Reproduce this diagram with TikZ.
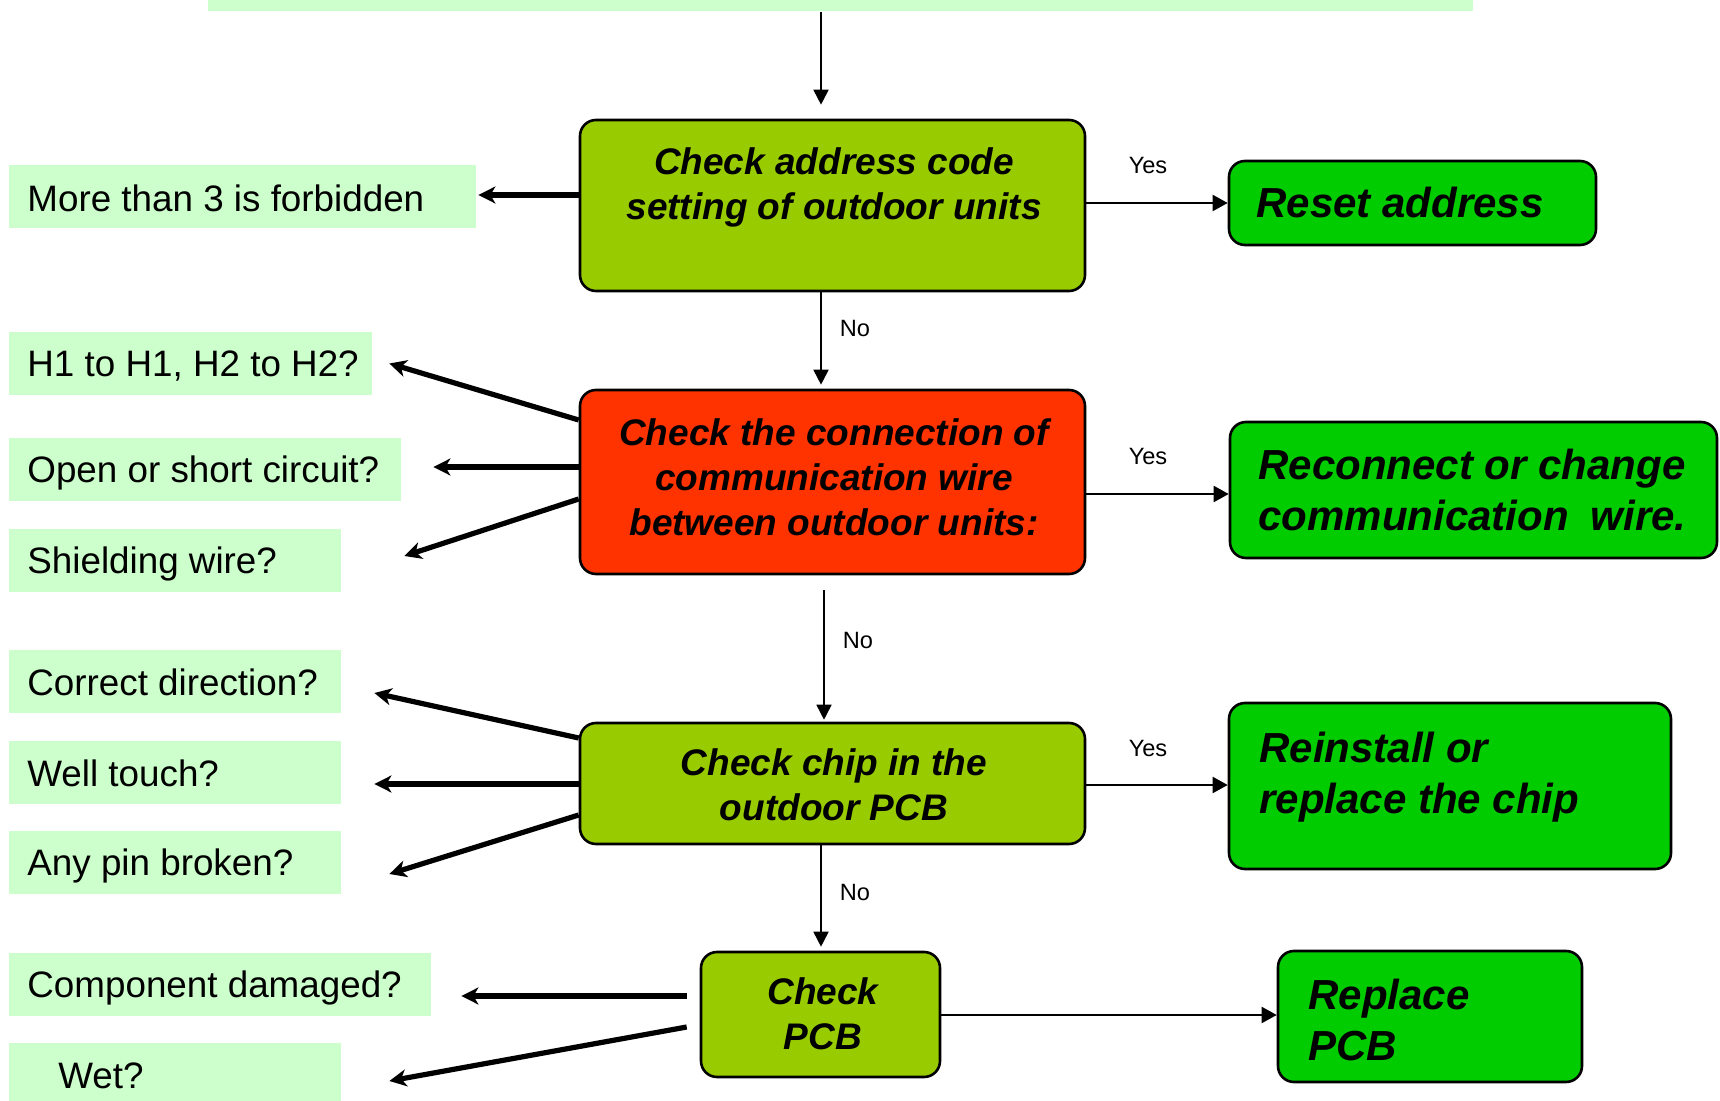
\documentclass[tikz,border=0pt]{standalone}
\usepackage{fontspec}
\setmainfont{Liberation Sans}
\usetikzlibrary{arrows.meta,calc}
\definecolor{qfill}{HTML}{CCFFCC}
\definecolor{limebox}{HTML}{99CC00}
\definecolor{redbox}{HTML}{FF3300}
\definecolor{greenbox}{HTML}{00CC00}
\newcommand{\qfont}{\fontsize{18.4}{22.2}\selectfont}
\newcommand{\bfont}{\fontsize{18.5}{22.4}\selectfont\bfseries\itshape}
\newcommand{\rfont}{\fontsize{21}{25.2}\selectfont\bfseries\itshape}
\newcommand{\lfont}{\fontsize{11.8}{14}\selectfont}
\begin{document}
\begin{tikzpicture}[x=0.5pt,y=-0.5pt,
  qbox/.style={fill=qfill, minimum height=31.5pt, minimum width=#1, inner sep=0pt},
  qtext/.style={inner sep=0pt, anchor=west, font=\qfont},
  stepbox/.style={draw=black, line width=1.3pt, rounded corners=8pt, inner sep=0pt},
  btext/.style={inner sep=0pt, align=center, font=\bfont},
  rtext/.style={inner sep=0pt, align=left, font=\rfont, anchor=west},
  lbl/.style={inner sep=0pt, font=\lfont},
  fat/.style={line width=2.6pt, -{Stealth[length=8.5pt,width=8.5pt,inset=2.5pt]}},
  yesline/.style={line width=1pt, -{Triangle[length=7.5pt,width=8pt]}},
  vline/.style={line width=0.85pt, -{Triangle[length=7.5pt,width=7.5pt]}}
]
\useasboundingbox (0,0) rectangle (1720,1101);

% incoming bar at the top
\node[fill=qfill, minimum width=632.5pt, minimum height=5.5pt, inner sep=0pt,
      anchor=north west] (top) at (208,0) {};

% main decision boxes
\node[stepbox, fill=limebox, minimum width=252.5pt, minimum height=85.5pt] (b1) at (832.5,205.5) {};
\node[stepbox, fill=redbox,  minimum width=252.5pt, minimum height=92pt]   (b2) at (832.5,482) {};
\node[stepbox, fill=limebox, minimum width=252.5pt, minimum height=60.5pt] (b3) at (832.5,783.5) {};
\node[stepbox, fill=limebox, minimum width=119.5pt, minimum height=62.5pt] (b4) at (820.5,1014.5) {};

\node[btext] (b1t) at (834,187.5) {Check address code\\setting of outdoor units};
\node[btext] (b2t) at (834,477) {Check the connection of\\communication wire\\between outdoor units:};
\node[btext] (b3t) at (834,785) {Check chip in the\\outdoor PCB};
\node[btext] (b4t) at (823,1014) {Check\\PCB};

% remedies
\node[stepbox, fill=greenbox, minimum width=183.5pt, minimum height=42pt]   (r1) at (1412.5,203) {};
\node[stepbox, fill=greenbox, minimum width=243.5pt, minimum height=68pt]   (r2) at (1473.5,490) {};
\node[stepbox, fill=greenbox, minimum width=221pt,   minimum height=83pt]   (r3) at (1450,786) {};
\node[stepbox, fill=greenbox, minimum width=152pt,   minimum height=65.5pt] (r4) at (1430,1016.5) {};

\node[rtext] (r1t) at (1256,203) {Reset address};
\node[rtext] (r2t) at (1258,490) {Reconnect or change\\communication\hspace{0.25em} wire.};
\node[rtext] (r3t) at (1259,777) {Reinstall or\\replace the chip};
\node[rtext] (r4t) at (1308,1020) {Replace\\PCB};

% questions to check
\node[qbox=233.5pt] (q0) at (242.5,197)   {};
\node[qbox=181.5pt] (q1) at (190.5,363.5) {};
\node[qbox=196pt]   (q2) at (205,469.5)   {};
\node[qbox=166pt]   (q3) at (175,560.5)   {};
\node[qbox=166pt]   (q4) at (175,681)     {};
\node[qbox=166pt]   (q5) at (175,772)     {};
\node[qbox=166pt]   (q6) at (175,862)     {};
\node[qbox=211pt]   (q7) at (220,984.5)   {};
\node[qbox=166pt, minimum height=29pt] (q8) at (175,1072) {};

\node[qtext] (q0t) at (27,198.5) {More than 3 is forbidden};
\node[qtext] (q1t) at (27,366.5) {H1 to H1, H2 to H2?};
\node[qtext] (q2t) at (27,472.5) {Open or short circuit?};
\node[qtext] (q3t) at (27,563.5) {Shielding wire?};
\node[qtext] (q4t) at (27,682.5) {Correct direction?};
\node[qtext] (q5t) at (27,773.5) {Well touch?};
\node[qtext] (q6t) at (27,866)   {Any pin broken?};
\node[qtext] (q7t) at (27,987.5) {Component damaged?};
\node[qtext] (q8t) at (58,1076)  {Wet?};

% main flow
\draw[vline] (top.south -| 821,0) -- ($(b1.north -| 821,0)+(0,-14)$);
\draw[vline] (b1.south -| 821,0) -- ($(b2.north -| 821,0)+(0,-4)$);
\draw[vline] ($(b2.south -| 824,0)+(0,15)$) -- ($(b3.north -| 824,0)+(0,-2)$);
\draw[vline] (b3.south -| 821,0) -- ($(b4.north -| 821,0)+(0,-4)$);

\node[lbl] (n1) at (855,329) {No};
\node[lbl] (n2) at (858,640) {No};
\node[lbl] (n3) at (855,892) {No};

% yes branches
\draw[yesline] (b1.east |- 0,203) -- (r1.west |- 0,203);
\draw[yesline] (b2.east |- 0,494) -- (r2.west |- 0,494);
\draw[yesline] (b3.east |- 0,785) -- (r3.west |- 0,785);
\draw[yesline] (b4.east |- 0,1015) -- (r4.west |- 0,1015);

\node[lbl] (y1) at (1148,166) {Yes};
\node[lbl] (y2) at (1148,456) {Yes};
\node[lbl] (y3) at (1148,748) {Yes};

% pointers to the questions
\draw[fat] (b1.west |- 0,195) -- ($(q0.east |- 0,195)+(2,0)$);
\draw[fat] (b2.west |- 0,420) -- ($(q1.east)+(17,0)$);
\draw[fat] (b2.west |- 0,467) -- ($(q2.east |- 0,467)+(32,0)$);
\draw[fat] (b2.west |- 0,499) -- ($(q3.east |- 0,556)+(63,0)$);
\draw[fat] (b3.west |- 0,738) -- ($(q4.east |- 0,693)+(33,0)$);
\draw[fat] (b3.west |- 0,784) -- ($(q5.east |- 0,784)+(33,0)$);
\draw[fat] (b3.west |- 0,815) -- ($(q6.east |- 0,874)+(48,0)$);
\draw[fat] ($(b4.west |- 0,996)+(-13,0)$) -- ($(q7.east |- 0,996)+(30,0)$);
\draw[fat] ($(b4.west |- 0,1027)+(-13,0)$) -- ($(q8.east |- 0,1081)+(48,0)$);
\end{tikzpicture}
\end{document}
